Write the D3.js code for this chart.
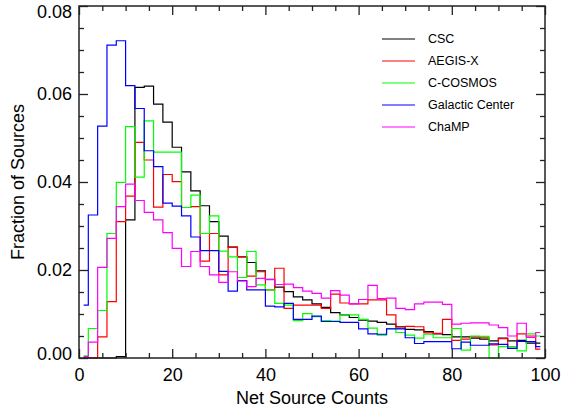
<!DOCTYPE html>
<html>
<head>
<meta charset="utf-8">
<script src="https://cdn.jsdelivr.net/npm/d3@7"></script>
<style>
  body { margin: 0; background: white; }
  text { font-family: "Liberation Sans", Arial, sans-serif; }
</style>
</head>
<body>
<script>
// bin centers (bin width 2 counts)
var binCenters = d3.range(1, 100, 2);

var seriesNames = ['CSC', 'AEGIS-X', 'C-COSMOS', 'Galactic Center', 'ChaMP'];
var seriesColors = ['#000000', '#ff0000', '#00ff00', '#0000ff', '#ff00ff'];

var csc = [0, 0, 0, 0, 0.0003, 0.0314, 0.0615, 0.0618, 0.0577, 0.0536,
           0.0479, 0.0423, 0.0380, 0.0346, 0.0310, 0.0277, 0.0252, 0.0230, 0.0217, 0.0198,
           0.0179, 0.0161, 0.0151, 0.0139, 0.0132, 0.0123, 0.0115, 0.0103, 0.0098, 0.0092,
           0.0086, 0.0084, 0.0081, 0.0077, 0.0071, 0.0065, 0.0064, 0.0060, 0.0055, 0.0053,
           0.0048, 0.0048, 0.0045, 0.0043, 0.0039, 0.0045, 0.0039, 0.0040, 0.0034, 0.0034];

var aegis = [0, 0, 0.0048, 0.0128, 0.0310, 0.0368, 0.0490, 0.0450, 0.0343, 0.0417,
             0.0401, 0.0342, 0.0344, 0.0220, 0.0283, 0.0189, 0.0252, 0.0230, 0.0186, 0.0196,
             0.0155, 0.0204, 0.0113, 0.0120, 0.0120, 0.0120, 0.0113, 0.0145, 0.0125, 0.0123,
             0.0123, 0.0132, 0.0132, 0.0098, 0.0068, 0.0072, 0.0071, 0.0057, 0.0056, 0.0088,
             0.0040, 0.0043, 0.0048, 0.0046, 0.0030, 0.0044, 0.0026, 0.0055, 0.0050, 0.0020];

var cosmos = [0.0005, 0.0067, 0.0108, 0.0283, 0.0399, 0.0526, 0.0411, 0.0539, 0.0468, 0.0468,
              0.0468, 0.0342, 0.0370, 0.0283, 0.0323, 0.0243, 0.0230, 0.0183, 0.0242, 0.0166,
              0.0155, 0.0124, 0.0120, 0.0085, 0.0101, 0.0094, 0.0085, 0.0084, 0.0098, 0.0098,
              0.0088, 0.0068, 0.0052, 0.0067, 0.0058, 0.0052, 0.0045, 0.0054, 0.0046, 0.0046,
              0.0067, 0.0018, 0.0050, 0.0049, 0.0000, 0.0026, 0.0026, 0.0016, 0.0055, 0.0050];

var galactic = [0.0120, 0.0325, 0.0527, 0.0711, 0.0721, 0.0619, 0.0567, 0.0471, 0.0435, 0.0352,
                0.0345, 0.0323, 0.0275, 0.0244, 0.0244, 0.0197, 0.0152, 0.0176, 0.0155, 0.0155,
                0.0118, 0.0116, 0.0124, 0.0088, 0.0088, 0.0095, 0.0083, 0.0083, 0.0081, 0.0081,
                0.0066, 0.0055, 0.0054, 0.0066, 0.0066, 0.0046, 0.0033, 0.0037, 0.0037, 0.0037,
                0.0021, 0.0036, 0.0029, 0.0029, 0.0032, 0.0031, 0.0022, 0.0038, 0.0037, 0.0026];

var champ = [0.0003, 0.0036, 0.0206, 0.0272, 0.0344, 0.0395, 0.0358, 0.0331, 0.0314, 0.0285,
             0.0249, 0.0208, 0.0242, 0.0208, 0.0189, 0.0172, 0.0196, 0.0175, 0.0162, 0.0181,
             0.0178, 0.0167, 0.0168, 0.0160, 0.0152, 0.0147, 0.0136, 0.0153, 0.0143, 0.0123,
             0.0133, 0.0165, 0.0135, 0.0136, 0.0113, 0.0110, 0.0123, 0.0127, 0.0127, 0.0122,
             0.0077, 0.0079, 0.0080, 0.0080, 0.0075, 0.0069, 0.0050, 0.0079, 0.0047, 0.0058];

var xMajor = [0, 20, 40, 60, 80, 100];
var yMajor = [0, 0.02, 0.04, 0.06, 0.08];

var allSeries = [csc, aegis, cosmos, galactic, champ];

// frame
var svg = d3.select('body')
            .append('svg')
            .attr('width', 561)
            .attr('height', 410);

// plot box edges (window.top is taken, so prefix them)
var plotLeft = 79, plotRight = 545, plotTop = 6, plotBottom = 358;

var x = d3.scaleLinear().domain([0, 100]).range([plotLeft, plotRight]);
var y = d3.scaleLinear().domain([0, 0.08]).range([plotBottom, plotTop]);

// histogram lines (step at the midpoints, like IDL psym=10)
var line = d3.line()
             .x(function (d, i) { return x(binCenters[i]); })
             .y(function (d) { return y(d); })
             .curve(d3.curveStep);

svg.append('g')
   .selectAll('path')
   .data(allSeries)
   .enter()
   .append('path')
   .attr('d', line)
   .attr('fill', 'none')
   .attr('stroke', function (d, i) { return seriesColors[i]; })
   .attr('stroke-width', 1.2);

// axes: major + minor ticks on all four sides, pointing inward
var xMinor = d3.range(0, 101, 5).filter(function (v) { return xMajor.indexOf(v) < 0; });
var yMinor = d3.range(0, 0.0801, 0.005).filter(function (v) {
  return yMajor.every(function (m) { return Math.abs(m - v) > 1e-9; });
});

function addAxis(gen, tx, ty) {
  var g = svg.append('g')
             .attr('transform', 'translate(' + tx + ',' + ty + ')')
             .call(gen);
  g.select('.domain').remove();
  g.selectAll('line').attr('stroke', '#222').attr('stroke-width', 1.3);
  g.selectAll('text')
   .style('font-family', '"Liberation Sans", Arial, sans-serif')
   .style('font-size', '18px')
   .attr('fill', '#000');
  return g;
}

addAxis(d3.axisBottom(x).tickValues(xMajor).tickFormat(d3.format('d'))
          .tickSizeInner(-9).tickSizeOuter(0).tickPadding(10), 0, plotBottom);
addAxis(d3.axisBottom(x).tickValues(xMinor).tickFormat('')
          .tickSizeInner(-5).tickSizeOuter(0), 0, plotBottom);
addAxis(d3.axisTop(x).tickValues(xMajor).tickFormat('')
          .tickSizeInner(-9).tickSizeOuter(0), 0, plotTop);
addAxis(d3.axisTop(x).tickValues(xMinor).tickFormat('')
          .tickSizeInner(-5).tickSizeOuter(0), 0, plotTop);

var yLabels = addAxis(d3.axisLeft(y).tickValues(yMajor).tickFormat(d3.format('.2f'))
          .tickSizeInner(-9).tickSizeOuter(0).tickPadding(7), plotLeft, 0);
// keep the end labels inside the frame, as the original does
yLabels.selectAll('text')
       .attr('dy', function (d) { return d === 0.08 ? '0.65em' : (d === 0 ? '0.1em' : '0.32em'); });
addAxis(d3.axisLeft(y).tickValues(yMinor).tickFormat('')
          .tickSizeInner(-5).tickSizeOuter(0), plotLeft, 0);
addAxis(d3.axisRight(y).tickValues(yMajor).tickFormat('')
          .tickSizeInner(-9).tickSizeOuter(0), plotRight, 0);
addAxis(d3.axisRight(y).tickValues(yMinor).tickFormat('')
          .tickSizeInner(-5).tickSizeOuter(0), plotRight, 0);

// plot box
svg.append('rect')
   .attr('x', plotLeft)
   .attr('y', plotTop)
   .attr('width', plotRight - plotLeft)
   .attr('height', plotBottom - plotTop)
   .attr('fill', 'none')
   .attr('stroke', '#222')
   .attr('stroke-width', 1.5);

// axis titles
svg.append('text')
   .attr('x', (plotLeft + plotRight) / 2)
   .attr('y', 404)
   .attr('text-anchor', 'middle')
   .style('font-size', '18px')
   .text('Net Source Counts');

svg.append('text')
   .attr('transform', 'translate(24,' + (plotTop + plotBottom) / 2 + ') rotate(-90)')
   .attr('text-anchor', 'middle')
   .style('font-size', '18px')
   .text('Fraction of Sources');

// legend
var legend = svg.append('g')
                .selectAll('g')
                .data(seriesNames)
                .enter()
                .append('g')
                .attr('transform', function (d, i) { return 'translate(382,' + (39 + i * 22) + ')'; });

legend.append('line')
      .attr('x1', 0)
      .attr('x2', 33)
      .attr('stroke', function (d, i) { return seriesColors[i]; })
      .attr('stroke-width', 1);

legend.append('text')
      .attr('x', 46)
      .attr('dy', '0.35em')
      .style('font-size', '12.5px')
      .text(function (d) { return d; });
</script>
</body>
</html>
